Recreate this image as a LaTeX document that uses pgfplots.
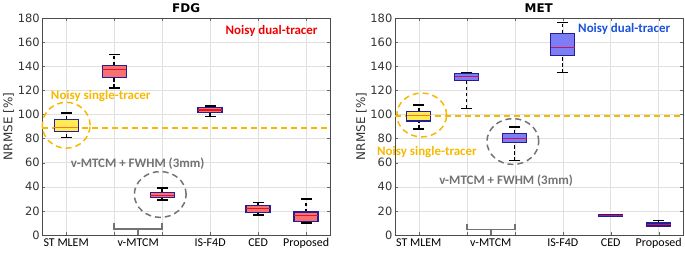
\documentclass[border=0pt]{standalone}
\usepackage{fontspec}
\setmainfont{Carlito}
\newfontfamily\dejavu{DejaVu Sans}
\usepackage{pgfplots}
\pgfplotsset{compat=1.18}
\usetikzlibrary{plotmarks,shapes.geometric}
\definecolor{orng}{RGB}{247,184,0}
\definecolor{grayt}{RGB}{115,115,115}
\definecolor{redt}{RGB}{240,0,0}
\definecolor{bluet}{RGB}{25,80,220}
\definecolor{navy}{RGB}{35,30,150}
\definecolor{redfill}{RGB}{248,112,112}
\definecolor{yelfill}{RGB}{255,236,85}
\definecolor{bluefill}{RGB}{125,125,245}
\definecolor{medredc}{RGB}{225,20,40}
\definecolor{medyelc}{RGB}{245,120,40}
\definecolor{medbluec}{RGB}{200,20,90}
\pgfplotsset{
  myax/.style={
    scale only axis, width=289pt, height=218pt,
    xmin=0.5, xmax=6.5, ymin=0, ymax=180,
    ytick={0,20,...,180},
    xtick={1,...,6},
    xticklabels={ST MLEM,,,IS-F4D,CED,Proposed},
    extra x ticks={2.5},
    extra x tick labels={v-MTCM},
    extra x tick style={grid=none, major tick length=0pt},
    grid=major,
    major grid style={black!12, line width=0.5pt},
    tick align=inside, xtick pos=both, ytick pos=both,
    major tick length=3pt,
    tick style={black!60},
    axis line style={black!70},
    /pgf/number format/assume math mode=true,
    yticklabel style={font=\dejavu\fontsize{11.5}{12}\selectfont, text=black!80, xshift=1pt},
    xticklabel style={font=\fontsize{12}{13}\selectfont, text=black},
    ylabel={NRMSE [\%]},
    ylabel style={font=\dejavu\fontsize{12}{13}\selectfont, text=black!80},
    ylabel shift=-3pt,
    title style={font=\dejavu\bfseries\fontsize{12}{13}\selectfont, yshift=-4pt},
    clip=false,
  },
  redbox/.style={fill=redfill},
  yelbox/.style={fill=yelfill},
  bluebox/.style={fill=bluefill},
  medred/.style={draw=medredc},
  medyel/.style={draw=medyelc},
  medblue/.style={draw=medbluec},
  refline/.style={draw=orng, line width=2pt, dash pattern=on 6pt off 4pt},
  caps/.style={only marks, mark=-, mark size=5.5pt, mark options={line width=1.4pt, black, solid}},
}
% #1 pos, #2 left, #3 right, #4 lower whisker, #5 q1, #6 median, #7 q3, #8 upper whisker, #9 colour scheme
\newcommand{\bxp}[9]{%
  \addplot[black, line width=1.4pt, dash pattern=on 3.5pt off 2.5pt] coordinates {(#1,#7) (#1,#8)};
  \addplot[black, line width=1.4pt, dash pattern=on 3.5pt off 2.5pt] coordinates {(#1,#4) (#1,#5)};
  \addplot[#9box, draw=navy, line width=1.3pt] coordinates {(#2,#5) (#3,#5) (#3,#7) (#2,#7)} -- cycle;
  \addplot[med#9, line width=1.1pt] coordinates {(#2,#6) (#3,#6)};
}
\tikzset{ring/.style={draw, ellipse, line width=1.5pt, dash pattern=on 6pt off 4pt, inner sep=0pt}}
\begin{document}
\begin{tikzpicture}
% ---------------- FDG ----------------
\begin{axis}[myax, title={FDG}, at={(0pt,0pt)}, anchor=south west]
\addplot[refline] coordinates {(0.5,88.8) (6.5,88.8)};
\bxp{1}{0.75}{1.25}{81}{85.8}{89.5}{95.7}{101}{yel}
\bxp{2}{1.75}{2.25}{122}{130.8}{137}{140.7}{149.5}{red}
\bxp{3}{2.75}{3.25}{29}{31}{33}{35}{39}{red}
\bxp{4}{3.75}{4.25}{98}{101.4}{103.6}{105.6}{107}{red}
\bxp{5}{4.75}{5.25}{16.5}{18.7}{22}{24.5}{27}{red}
\bxp{6}{5.75}{6.25}{10}{11.3}{16}{19}{30}{red}
\addplot[caps] coordinates {(1,81) (1,101) (2,122) (2,149.5) (3,29) (3,39) (4,98) (4,107) (5,16.5) (5,27) (6,10) (6,30)};
\node[ring, draw=orng, minimum width=48pt, minimum height=46pt] at (axis cs:1,91) {};
\node[ring, draw=grayt, minimum width=52pt, minimum height=46pt] at (axis cs:2.96,33.6) {};
\draw[grayt, line width=1.6pt] (axis cs:2,10) -- (axis cs:2,5) -- (axis cs:3,5) -- (axis cs:3,10);
\draw[grayt, line width=1.6pt] (axis cs:2.5,5) -- (axis cs:2.5,0);
\node[font=\bfseries\fontsize{13}{14}\selectfont, text=redt] at (axis cs:5.28,169) {Noisy dual-tracer};
\node[font=\bfseries\fontsize{13}{14}\selectfont, text=orng] at (axis cs:1.72,115.5) {Noisy single-tracer};
\node[font=\bfseries\fontsize{13}{14}\selectfont, text=grayt] at (axis cs:2.49,58.8) {v-MTCM + FWHM (3mm)};
\end{axis}
% ---------------- MET ----------------
\begin{axis}[myax, title={MET}, at={(354pt,0pt)}, anchor=south west]
\addplot[refline] coordinates {(0.5,98.7) (6.5,98.7)};
\bxp{1}{0.75}{1.25}{88}{94.6}{99.2}{102.3}{107.8}{yel}
\bxp{2}{1.75}{2.25}{105}{127.8}{131.5}{133.9}{134.8}{blue}
\bxp{3}{2.75}{3.25}{61.6}{76.7}{79.7}{84}{89.6}{blue}
\bxp{4}{3.75}{4.25}{134.7}{149}{155.3}{167.3}{176}{blue}
\bxp{5}{4.75}{5.25}{15}{15.6}{16.5}{17.3}{17.8}{blue}
\bxp{6}{5.75}{6.25}{7}{7.4}{8.6}{10}{12}{blue}
\addplot[caps] coordinates {(1,88) (1,107.8) (2,105) (2,134.8) (3,61.6) (3,89.6) (4,134.7) (4,176) (6,12)};
\node[ring, draw=orng, minimum width=50pt, minimum height=44pt] at (axis cs:1.06,99.5) {};
\node[ring, draw=grayt, minimum width=52pt, minimum height=46pt] at (axis cs:2.96,77.5) {};
\draw[grayt, line width=1.6pt] (axis cs:2,9) -- (axis cs:2,4.7) -- (axis cs:3,4.7) -- (axis cs:3,9);
\draw[grayt, line width=1.6pt] (axis cs:2.5,4.7) -- (axis cs:2.5,0);
\node[font=\bfseries\fontsize{13}{14}\selectfont, text=bluet] at (axis cs:5.28,170.5) {Noisy dual-tracer};
\node[font=\bfseries\fontsize{13}{14}\selectfont, text=orng] at (axis cs:1.17,68.5) {Noisy single-tracer};
\node[font=\bfseries\fontsize{13}{14}\selectfont, text=grayt] at (axis cs:2.82,45) {v-MTCM + FWHM (3mm)};
\end{axis}
\end{tikzpicture}
\end{document}
